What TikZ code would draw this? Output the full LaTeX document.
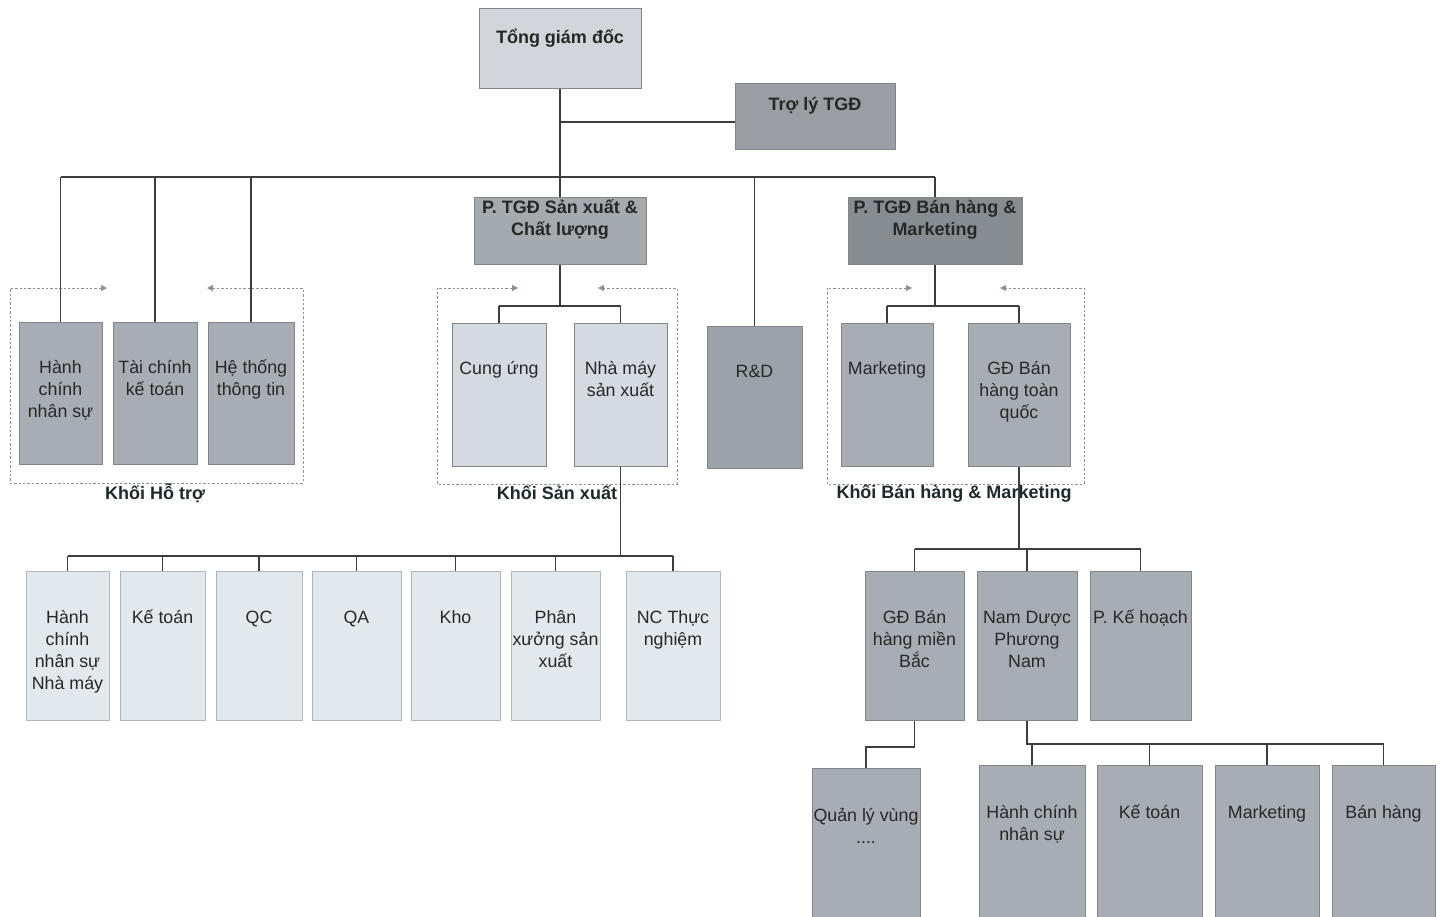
\documentclass[tikz,border=0pt]{standalone}
\usepackage{fontspec}
\setmainfont{Liberation Sans}
\usetikzlibrary{arrows.meta}
\definecolor{boxline}{HTML}{80868B}
\definecolor{lightline}{HTML}{AEB5BB}
\definecolor{lineC}{HTML}{3A3E40}
\definecolor{grpC}{HTML}{8A9094}
\definecolor{txt}{HTML}{262828}
\definecolor{grpTxt}{HTML}{1E2A2A}
\definecolor{cTgd}{HTML}{D2D6DA}
\definecolor{cTl}{HTML}{9A9EA2}
\definecolor{cSx}{HTML}{A5AAAE}
\definecolor{cBh}{HTML}{878C90}
\definecolor{cGr}{HTML}{A7ADB2}
\definecolor{cLt}{HTML}{D4DADF}
\definecolor{cRd}{HTML}{9CA3A8}
\definecolor{cVl}{HTML}{E3E8EC}
\newcommand\nfont{\fontsize{8.9}{11}\selectfont}
\newcommand\bfont{\fontsize{9}{11}\selectfont\bfseries}
\newcommand\tp{\rule{0pt}{9pt}}
\tikzset{
  box/.style={rectangle, draw=boxline, line width=0.5pt, inner sep=0pt},
  lbox/.style={rectangle, draw=lightline, line width=0.5pt, inner sep=0pt},
  lbl/.style={anchor=north, inner sep=0pt, align=center, text=txt, font=\nfont},
  blbl/.style={anchor=north, inner sep=0pt, align=center, text=txt, font=\bfont},
  conn/.style={draw=lineC, line width=0.75pt},
  grp/.style={draw=grpC, line width=0.5pt, dash pattern=on 1.2pt off 1pt,
    {Triangle[length=3pt,width=3pt]}-{Triangle[length=3pt,width=3pt]}},
  grplbl/.style={font=\bfont, text=grpTxt, inner sep=0pt},
}
% name, x1, y1, x2, y2, fill, label style, offset(px), text
\newcommand\bx[9]{%
  \node[#7, fill=#6, minimum width={(#4-#2)*0.5pt}, minimum height={(#5-#3)*0.5pt},
    label={[#8]north:{\tp #9}}] (#1) at ({(#2+#4)/2},{(#3+#5)/2}) {};}
\begin{document}
\begin{tikzpicture}[x=0.5pt,y=-0.5pt]
\useasboundingbox (0,0) rectangle (1440,916);
\fill[white] (0,0) rectangle (1440,916);
\clip (0,0) rectangle (1440,916);

% top level
\bx{tgd}{479}{8}{641}{88}{cTgd}{box}{blbl,yshift=-8.75pt}{Tổng giám đốc}
\bx{tl}{735}{83}{895}{149}{cTl}{box}{blbl,yshift=-4.75pt}{Trợ lý TGĐ}
\bx{sx}{474}{197}{646}{264}{cSx}{box}{blbl,yshift=0.75pt}{P. TGĐ Sản xuất \&\\Chất lượng}
\bx{bh}{848}{197}{1022}{264}{cBh}{box}{blbl,yshift=0.75pt}{P. TGĐ Bán hàng \&\\Marketing}

% support block
\bx{hc}{19}{322}{102}{464}{cGr}{box}{lbl,yshift=-16.75pt}{Hành\\chính\\nhân sự}
\bx{tc}{113}{322}{197}{464}{cGr}{box}{lbl,yshift=-16.75pt}{Tài chính\\kế toán}
\bx{ht}{208}{322}{294}{464}{cGr}{box}{lbl,yshift=-16.75pt}{Hệ thống\\thông tin}

% production block
\bx{cu}{452}{323}{546}{466}{cLt}{box}{lbl,yshift=-16.75pt}{Cung ứng}
\bx{nm}{574}{323}{667}{466}{cLt}{box}{lbl,yshift=-16.75pt}{Nhà máy\\sản xuất}

% R&D
\bx{rd}{707}{326}{802}{468}{cRd}{box}{lbl,yshift=-16.75pt}{R\&D}

% sales block
\bx{mk}{841}{323}{933}{466}{cGr}{box}{lbl,yshift=-16.75pt}{Marketing}
\bx{gq}{968}{323}{1070}{466}{cGr}{box}{lbl,yshift=-16.75pt}{GĐ Bán\\hàng toàn\\quốc}

% factory departments
\bx{b1}{26}{571}{109}{720}{cVl}{lbox}{lbl,yshift=-17.25pt}{Hành\\chính\\nhân sự\\Nhà máy}
\bx{b2}{120}{571}{205}{720}{cVl}{lbox}{lbl,yshift=-17.25pt}{Kế toán}
\bx{b3}{216}{571}{302}{720}{cVl}{lbox}{lbl,yshift=-17.25pt}{QC}
\bx{b4}{312}{571}{401}{720}{cVl}{lbox}{lbl,yshift=-17.25pt}{QA}
\bx{b5}{411}{571}{500}{720}{cVl}{lbox}{lbl,yshift=-17.25pt}{Kho}
\bx{b6}{511}{571}{600}{720}{cVl}{lbox}{lbl,yshift=-17.25pt}{Phân\\xưởng sản\\xuất}
\bx{b7}{626}{571}{720}{720}{cVl}{lbox}{lbl,yshift=-17.25pt}{NC Thực\\nghiệm}

% regional sales
\bx{mb}{865}{571}{964}{720}{cGr}{box}{lbl,yshift=-17.25pt}{GĐ Bán\\hàng miền\\Bắc}
\bx{nd}{977}{571}{1077}{720}{cGr}{box}{lbl,yshift=-17.25pt}{Nam Dược\\Phương\\Nam}
\bx{kh}{1090}{571}{1191}{720}{cGr}{box}{lbl,yshift=-17.25pt}{P. Kế hoạch}

% bottom level
\bx{ql}{812}{768}{920}{922}{cGr}{box}{lbl,yshift=-17.75pt}{Quản lý vùng\\....}
\bx{r1}{979}{765}{1085}{922}{cGr}{box}{lbl,yshift=-17.75pt}{Hành chính\\nhân sự}
\bx{r2}{1097}{765}{1202}{922}{cGr}{box}{lbl,yshift=-17.75pt}{Kế toán}
\bx{r3}{1215}{765}{1319}{922}{cGr}{box}{lbl,yshift=-17.75pt}{Marketing}
\bx{r4}{1332}{765}{1435}{922}{cGr}{box}{lbl,yshift=-17.75pt}{Bán hàng}

% group frames
\draw[grp] (107,288) -- (10,288) -- (10,483) -- (303,483) -- (303,288) -- (207,288);
\draw[grp] (518,288) -- (437,288) -- (437,484) -- (677,484) -- (677,288) -- (598,288);
\draw[grp] (912,288) -- (827,288) -- (827,484) -- (1084,484) -- (1084,288) -- (1000,288);
\node[grplbl] (g1) at (155,493) {Khối Hỗ trợ};
\node[grplbl] (g2) at (557,493) {Khối Sản xuất};
\node[grplbl] (g3) at (954,493) {Khối Bán hàng \& Marketing};

% connectors
\coordinate (ty) at (0,122);
\coordinate (busA) at (0,177);
\coordinate (busB) at (0,306);
\coordinate (busC) at (0,556);
\coordinate (busE) at (0,549);
\coordinate (busF) at (0,747);
\coordinate (busG) at (0,744);

\draw[conn] (tgd.south) -- (tgd.south |- busA);
\draw[conn] (tgd.south |- ty) -- (tl.west |- ty);
\draw[conn] (hc.north |- busA) -- (bh.north |- busA);
\foreach \n in {hc,tc,ht,sx,rd,bh} \draw[conn] (\n.north |- busA) -- (\n.north);

\draw[conn] (sx.south) -- (sx.south |- busB);
\draw[conn] (cu.north |- busB) -- (nm.north |- busB);
\foreach \n in {cu,nm} \draw[conn] (\n.north |- busB) -- (\n.north);

\draw[conn] (bh.south) -- (bh.south |- busB);
\draw[conn] (mk.north |- busB) -- (gq.north |- busB);
\foreach \n in {mk,gq} \draw[conn] (\n.north |- busB) -- (\n.north);

\draw[conn] (nm.south) -- (nm.south |- busC);
\draw[conn] (b1.north |- busC) -- (b7.north |- busC);
\foreach \n in {b1,b2,b3,b4,b5,b6,b7} \draw[conn] (\n.north |- busC) -- (\n.north);

\draw[conn] (gq.south) -- (gq.south |- busE);
\draw[conn] (mb.north |- busE) -- (kh.north |- busE);
\foreach \n in {mb,nd,kh} \draw[conn] (\n.north |- busE) -- (\n.north);

\draw[conn] (mb.south) -- (mb.south |- busF) -- (ql.north |- busF) -- (ql.north);

\draw[conn] (nd.south) -- (nd.south |- busG) -- (r4.north |- busG);
\foreach \n in {r1,r2,r3,r4} \draw[conn] (\n.north |- busG) -- (\n.north);
\end{tikzpicture}
\end{document}
